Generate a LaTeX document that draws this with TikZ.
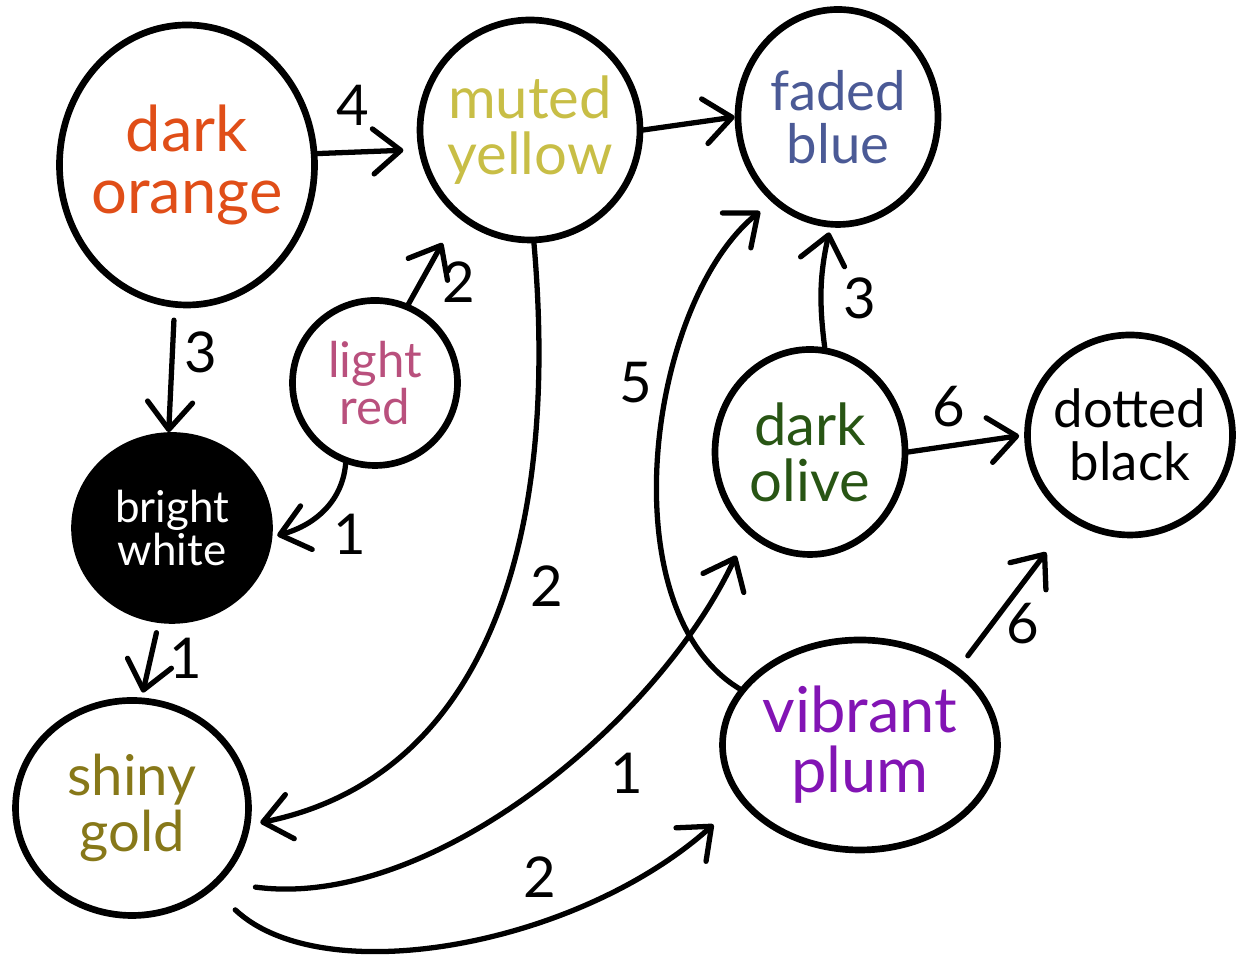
\documentclass[tikz,border=0pt]{standalone}
\usepackage{fontspec}
\setmainfont{Lato}
\usepackage{tikz}
\usetikzlibrary{arrows.meta,shapes.geometric}

\definecolor{dorange}{RGB}{224,78,24}
\definecolor{myellow}{RGB}{200,190,70}
\definecolor{fblue}{RGB}{75,90,150}
\definecolor{lred}{RGB}{185,80,125}
\definecolor{sgold}{RGB}{135,120,25}
\definecolor{dolive}{RGB}{40,85,20}
\definecolor{vplum}{RGB}{130,20,180}

\begin{document}
\begin{tikzpicture}[
  state/.style={ellipse,draw,line width=3.8pt,inner sep=-0.15cm,align=center},
  arr/.style={-{Straight Barb[length=5.5mm,width=9mm,round]},line width=3pt,line cap=round},
  num/.style={font=\fontsize{32}{32}\selectfont,inner sep=1pt}
]
\useasboundingbox (0,0) rectangle (24.84,19.44);
% Bags
\node[state,minimum width=5.1cm,minimum height=5.6cm,text=dorange,
      font=\fontsize{36}{35}\selectfont] (orange) at (3.74,16.14) {dark\\orange};
\node[state,minimum width=4.4cm,minimum height=4.4cm,text=myellow,
      font=\fontsize{33}{32}\selectfont] (yellow) at (10.6,16.84) {muted\\yellow};
\node[state,minimum width=4.0cm,minimum height=4.3cm,text=fblue,
      font=\fontsize{31}{30}\selectfont] (blue) at (16.76,17.1) {faded\\blue};
\node[state,minimum width=3.3cm,minimum height=3.3cm,text=lred,
      font=\fontsize{28}{25}\selectfont] (red) at (7.5,11.78) {light\\red};
\node[state,fill=black,minimum width=3.9cm,minimum height=3.7cm,text=white,
      font=\fontsize{25}{25}\selectfont] (white) at (3.44,8.88) {bright\\white};
\node[state,minimum width=4.66cm,minimum height=4.3cm,text=sgold,
      font=\fontsize{32}{32}\selectfont] (gold) at (2.64,3.28) {shiny\\gold};
\node[state,minimum width=3.8cm,minimum height=4.1cm,text=dolive,
      font=\fontsize{33}{32}\selectfont] (olive) at (16.2,10.4) {dark\\olive};
\node[state,minimum width=4.1cm,minimum height=4.0cm,
      font=\fontsize{30}{30}\selectfont] (black) at (22.6,10.74) {dotted\\black};
\node[state,minimum width=5.5cm,minimum height=4.2cm,text=vplum,
      font=\fontsize{36}{34}\selectfont] (plum) at (17.2,4.54) {vibrant\\plum};
% Rules
\draw[arr,shorten >=0.3cm] (orange.5) -- (yellow.190)
  node[pos=0.35,above=0.45cm,num] {4};
\draw[arr] (yellow.east) -- (blue.west);
\draw[arr,shorten <=0.25cm] (orange.265) -- (white.92)
  node[pos=0.36,right=0.15cm,num] {3};
\draw[arr,shorten >=0.6cm] (red.67) -- (yellow.230)
  node[pos=0.25,right=0.35cm,num] {2};
\draw[arr,shorten >=0.1cm] (red.250) to[out=-95,in=15]
  node[pos=0.45,below right=0.05cm,num] {1} (white.355);
\draw[arr,shorten <=0.2cm,shorten >=0.1cm] (white.262) -- (gold.85)
  node[pos=0.48,right=0.3cm,num] {1};
\draw[arr,shorten >=0.2cm] (yellow.272) .. controls +(0.56,-6.4) and +(4.44,0.9) .. (gold.352)
  node[pos=0.42,right=0.4cm,num] {2};
\draw[arr,shorten <=0.7cm,shorten >=0.5cm] (gold.320) .. controls +(4.18,-0.56) and +(-1.77,-3.79) .. (olive.232)
  node[pos=0.62,below right=0.25cm,num] {1};
\draw[arr,shorten <=0.6cm,shorten >=0.7cm] (gold.315) .. controls +(2.2,-2.06) and +(-3.24,-2.9) .. (plum.205)
  node[pos=0.64,above=0.3cm,num] {2};
\draw[arr,shorten >=0.3cm] (plum.155) .. controls +(-2.64,1.6) and +(-2.48,-2.02) .. (blue.232)
  node[pos=0.62,left=0.3cm,num] {5};
\draw[arr,shorten >=0.1cm] (olive.82) to[bend left=10]
  node[pos=0.4,right=0.35cm,num] {3} (blue.266);
\draw[arr,shorten >=0.1cm] (olive.east) -- (black.west)
  node[pos=0.35,above=0.3cm,num] {6};
\draw[arr,shorten <=0.3cm,shorten >=0.8cm] (plum.38) -- (black.235)
  node[pos=0.3,right=0.2cm,num] {6};
\end{tikzpicture}
\end{document}
